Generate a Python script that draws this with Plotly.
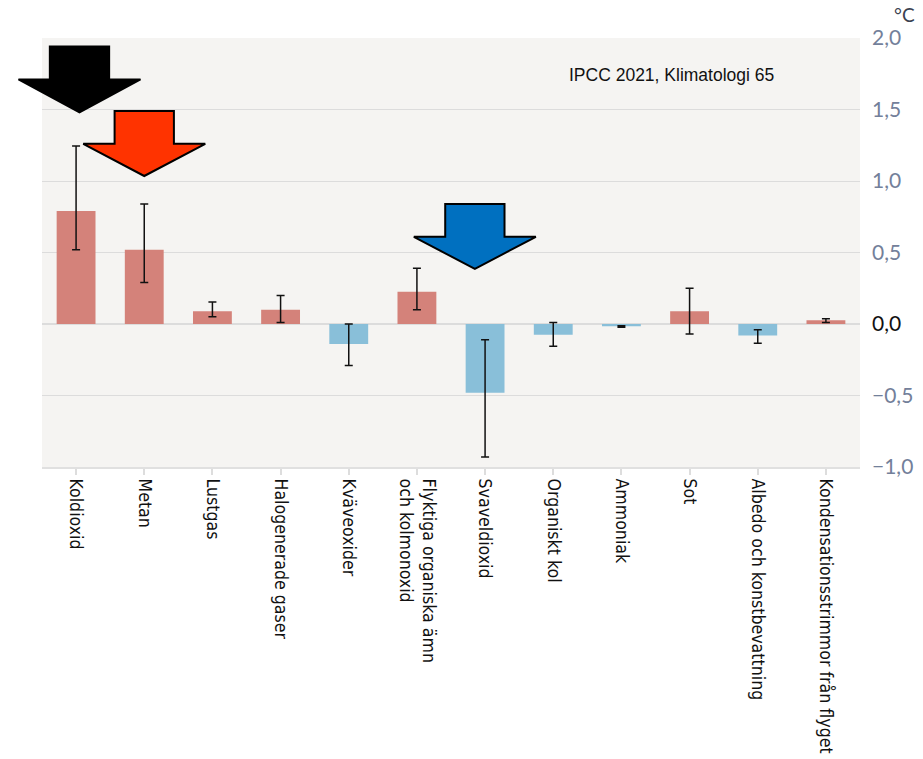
import plotly.graph_objects as go

# Drivers of temperature change (°C), best estimate with likely range
categories = [
    "Koldioxid", "Metan", "Lustgas", "Halogenerade gaser", "Kväveoxider",
    "Flyktiga organiska ämn<br>och kolmonoxid", "Svaveldioxid", "Organiskt kol",
    "Ammoniak", "Sot", "Albedo och konstbevattning",
    "Kondensationsstrimmor från flyget",
]
values = [0.79, 0.52, 0.09, 0.10, -0.14, 0.226, -0.48, -0.075, -0.016, 0.09, -0.08, 0.026]
low = [0.52, 0.29, 0.05, 0.01, -0.29, 0.10, -0.93, -0.155, -0.022, -0.07, -0.135, 0.01]
high = [1.245, 0.84, 0.154, 0.20, 0.0, 0.39, -0.11, 0.01, -0.012, 0.25, -0.04, 0.037]

y_ticks = [2.0, 1.5, 1.0, 0.5, 0.0, -0.5, -1.0]
y_ticktext = ["2,0", "1,5", "1,0", "0,5", "0,0", "−0,5", "−1,0"]
Y_MIN, Y_MAX = -1.0, 2.0

# Down arrows: (category position, shaft top, shaft bottom, tip, fill colour)
arrows = [
    (0.05, 1.94, 1.71, 1.48, "#000000"),
    (1.0, 1.49, 1.26, 1.035, "#ff3300"),
    (5.85, 0.84, 0.61, 0.385, "#0070c0"),
]

RED = "#d4827a"
BLUE = "#89bfd9"
colors = [RED if v >= 0 else BLUE for v in values]
n = len(categories)

fig = go.Figure(
    go.Bar(
        x=list(range(n)),
        y=values,
        width=0.57,
        marker=dict(color=colors, line=dict(width=0)),
        error_y=dict(
            type="data",
            symmetric=False,
            array=[h - v for h, v in zip(high, values)],
            arrayminus=[v - l for v, l in zip(values, low)],
            color="#111111",
            thickness=1.5,
            width=4,
        ),
        hoverinfo="skip",
    )
)


def px(cat):
    """Category position -> paper x (arrows may overhang the plot area)."""
    return (cat + 0.5) / n


def py(val):
    return (val - Y_MIN) / (Y_MAX - Y_MIN)


shaft_half = 0.435
head_half = 0.895
for cx, top, mid, tip, col in arrows:
    pts = [
        (cx - shaft_half, top), (cx + shaft_half, top), (cx + shaft_half, mid),
        (cx + head_half, mid), (cx, tip), (cx - head_half, mid), (cx - shaft_half, mid),
    ]
    path = "M " + " L ".join(f"{px(a):.5f} {py(b):.5f}" for a, b in pts) + " Z"
    fig.add_shape(
        type="path", path=path, xref="paper", yref="paper",
        fillcolor=col, line=dict(color="#000000", width=2), layer="above",
    )

fig.add_annotation(
    text="IPCC 2021, Klimatologi 65", x=0.769, y=1.74, xref="paper", yref="y",
    showarrow=False, xanchor="center", yanchor="middle",
    font=dict(family="Liberation Sans, Arial", size=17.5, color="#111111"),
)
fig.add_annotation(
    text="°C", x=1.0, y=1.0, xref="paper", yref="paper", xshift=44, yshift=10,
    showarrow=False, xanchor="center", yanchor="bottom",
    font=dict(family="Lato, Open Sans", size=19, color="#3a4150"),
)

ticktext = [
    f"<span style='color:#111111'>{t}</span>" if v == 0 else t
    for v, t in zip(y_ticks, y_ticktext)
]

fig.update_layout(
    width=923, height=759,
    margin=dict(l=42, r=63, t=38, b=292),
    paper_bgcolor="#ffffff",
    plot_bgcolor="#f5f4f2",
    showlegend=False,
    xaxis=dict(
        tickmode="array",
        tickvals=list(range(n)),
        ticktext=categories,
        tickangle=90,
        range=[-0.5, n - 0.5],
        automargin=False,
        showgrid=False,
        showline=True, linecolor="#e0e0e0", linewidth=2,
        ticks="outside", ticklen=6, tickcolor="#dddddd", tickwidth=2,
        tickfont=dict(family="Liberation Sans Narrow, DejaVu Sans Condensed, Arial Narrow", size=17.6, color="#111111"),
    ),
    yaxis=dict(
        side="right",
        range=[Y_MIN, Y_MAX],
        tickmode="array",
        tickvals=y_ticks,
        ticktext=ticktext,
        automargin=False,
        showgrid=True, gridcolor="#dcdcdc", gridwidth=1,
        zeroline=True, zerolinecolor="#dcdcdc", zerolinewidth=2,
        showline=False,
        ticks="",
        ticklabelstandoff=11,
        tickfont=dict(family="Lato, Open Sans", size=21, color="#73809a"),
    ),
)

fig.write_html("out.html")
